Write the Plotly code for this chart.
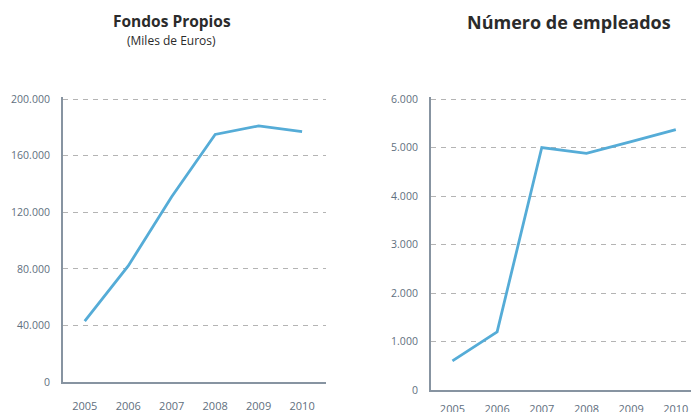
import plotly.graph_objects as go

years = [2005, 2006, 2007, 2008, 2009, 2010]
fondos_propios = [43000, 82000, 131000, 175000, 181000, 177000]
empleados = [600, 1200, 5000, 4880, 5120, 5370]

y1_ticks = [0, 40000, 80000, 120000, 160000, 200000]
y1_labels = ["0", "40.000", "80.000", "120.000", "160.000", "200.000"]
y2_ticks = [0, 1000, 2000, 3000, 4000, 5000, 6000]
y2_labels = ["0", "1.000", "2.000", "3.000", "4.000", "5.000", "6.000"]

W, H = 691, 412
LINE = "#55acd7"
AXIS = "#8794a1"
GRID = "#b4b4b4"
TICK = "#5f6f80"
FONT = "Open Sans"

fig = go.Figure()
fig.add_trace(go.Scatter(x=years, y=fondos_propios, mode="lines",
                         line=dict(color=LINE, width=2.8), xaxis="x", yaxis="y",
                         showlegend=False))
fig.add_trace(go.Scatter(x=years, y=empleados, mode="lines",
                         line=dict(color=LINE, width=2.8), xaxis="x2", yaxis="y2",
                         showlegend=False))

def xax(domain, rng, anchor, standoff):
    return dict(domain=domain, range=rng, anchor=anchor, tickmode="array",
                tickvals=years, ticktext=[str(y) for y in years],
                showgrid=False, zeroline=False, showline=True, linecolor=AXIS,
                linewidth=2, ticks="", ticklabelstandoff=standoff, automargin=False,
                tickfont=dict(family=FONT, size=11, color=TICK), fixedrange=True)

def yax(domain, rng, anchor, tv, tt):
    return dict(domain=domain, range=rng, anchor=anchor, tickmode="array",
                tickvals=tv, ticktext=tt, showgrid=True, gridcolor=GRID,
                griddash="5px,5px", gridwidth=1, zeroline=False, showline=True,
                linecolor=AXIS, linewidth=2, ticks="", ticklabelstandoff=9,
                automargin=False,
                tickfont=dict(family=FONT, size=10.5, color=TICK), fixedrange=True)

fig.update_layout(
    width=W, height=H,
    margin=dict(l=0, r=0, t=0, b=0, autoexpand=False),
    paper_bgcolor="white", plot_bgcolor="white",
    xaxis=xax([63 / W, 326 / W], [2004.5, 2010.55], "y", 13),
    yaxis=yax([(H - 382) / H, (H - 97.2) / H], [0, 201300], "x", y1_ticks, y1_labels),
    xaxis2=xax([431 / W, 1.0], [2004.52, 2010.34], "y2", 8),
    yaxis2=yax([(H - 390) / H, (H - 97.1) / H], [0, 6040], "x2", y2_ticks, y2_labels),
    annotations=[
        dict(text="<b>Fondos Propios</b>", x=172 / W, y=1 - 21 / H, xref="paper",
             yref="paper", showarrow=False, xanchor="center", yanchor="middle",
             font=dict(family=FONT, size=15.5, color="#2b2b2b")),
        dict(text="(Miles de Euros)", x=171 / W, y=1 - 41 / H, xref="paper",
             yref="paper", showarrow=False, xanchor="center", yanchor="middle",
             font=dict(family=FONT, size=12, color="#2b2b2b")),
        dict(text="<b>Número de empleados</b>", x=569 / W, y=1 - 22 / H, xref="paper",
             yref="paper", showarrow=False, xanchor="center", yanchor="middle",
             font=dict(family=FONT, size=18, color="#2b2b2b")),
    ],
)

fig.write_html("out.html", config={"displayModeBar": False},
               post_script="document.body.style.margin='0';")
